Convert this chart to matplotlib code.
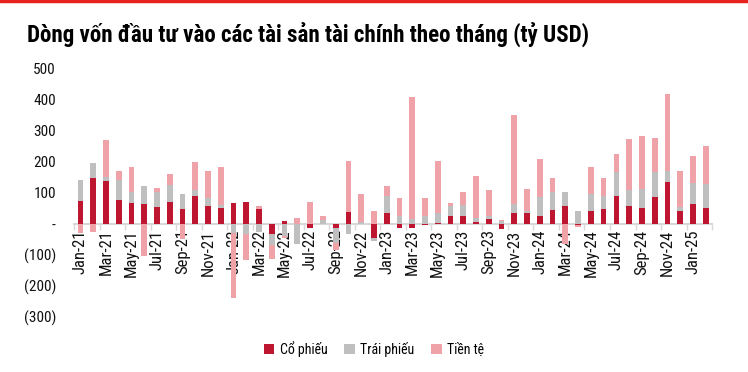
import matplotlib
matplotlib.use("Agg")
import matplotlib.pyplot as plt
import numpy as np
from matplotlib.lines import Line2D
from matplotlib.patches import Patch
from matplotlib.ticker import FuncFormatter, FixedLocator

plt.rcParams["font.family"] = ["Roboto Condensed", "DejaVu Sans"]

months = [
    "Jan-21", "Feb-21", "Mar-21", "Apr-21", "May-21", "Jun-21",
    "Jul-21", "Aug-21", "Sep-21", "Oct-21", "Nov-21", "Dec-21",
    "Jan-22", "Feb-22", "Mar-22", "Apr-22", "May-22", "Jun-22",
    "Jul-22", "Aug-22", "Sep-22", "Oct-22", "Nov-22", "Dec-22",
    "Jan-23", "Feb-23", "Mar-23", "Apr-23", "May-23", "Jun-23",
    "Jul-23", "Aug-23", "Sep-23", "Oct-23", "Nov-23", "Dec-23",
    "Jan-24", "Feb-24", "Mar-24", "Apr-24", "May-24", "Jun-24",
    "Jul-24", "Aug-24", "Sep-24", "Oct-24", "Nov-24", "Dec-24",
    "Jan-25", "Feb-25",
]

# ty USD
co_phieu = [
    75, 148, 137, 76, 68, 63, 54, 71, 49, 89, 57, 50,
    68, 72, 47, -34, 10, 0, -12, 0, -12, 39, 0, -45,
    34, -12, -12, -5, 3, 27, 27, 5, 17, -18, 36, 36,
    27, 46, 59, -5, 42, 49, 90, 57, 52, 86, 136, 42,
    63, 52,
]
trai_phieu = [
    65, 48, 15, 66, 36, 60, 49, 54, 48, 21, 26, 11,
    -28, -33, -25, -34, -38, -66, 0, 13, -50, -34, 5, -10,
    55, 25, 15, 25, 32, 31, 34, 15, 9, 8, 28, 7,
    60, 56, 44, 41, 55, 41, 77, 53, 62, 81, 36, 11,
    70, 76,
]
tien_te = [
    -30, -26, 119, 30, 80, -103, 12, 36, -50, 90, 88, 121,
    -212, -82, 12, -45, -8, 18, 70, 14, -22, 164, 92, 42,
    34, 57, 395, 60, 169, 9, 43, 134, 82, 5, 287, 71,
    121, 45, -65, -5, 86, 57, 59, 164, 171, 110, 246, 117,
    85, 123,
]

series = [
    ("Cổ phiếu", co_phieu, "#BE1530"),
    ("Trái phiếu", trai_phieu, "#BFBFBF"),
    ("Tiền tệ", tien_te, "#EFA3A8"),
]

fig = plt.figure(figsize=(7.48, 3.72), dpi=100)
ax = fig.add_axes([0.099, 0.148, 0.853, 0.667])

# positives stack up from zero, negatives stack down from zero
x = np.arange(len(months))
pos_base = np.zeros(len(months))
neg_base = np.zeros(len(months))
for name, vals, color in series:
    v = np.array(vals, dtype=float)
    bottom = np.where(v >= 0, pos_base, neg_base)
    ax.bar(x, v, bottom=bottom, width=0.45, color=color, linewidth=0, zorder=2)
    pos_base += np.clip(v, 0, None)
    neg_base += np.clip(v, None, 0)

ax.set_xlim(-0.5, len(months) - 0.5)
ax.set_ylim(-300, 500)
ax.set_yticks(np.arange(-300, 501, 100))


def fmt(v, _):
    if v == 0:
        return "-"
    if v < 0:
        return f"({abs(v):.0f})"
    return f"{v:.0f}"


ax.yaxis.set_major_formatter(FuncFormatter(fmt))
ax.tick_params(axis="y", length=0, pad=13, labelsize=11, labelcolor="#111111")

for s in ["top", "right", "left"]:
    ax.spines[s].set_visible(False)
ax.spines["bottom"].set_position(("data", 0))
ax.spines["bottom"].set_color("#D9D9D9")
ax.spines["bottom"].set_linewidth(1.5)
ax.spines["bottom"].set_zorder(1)

ax.set_xticks(x[::2])
ax.set_xticklabels(months[::2], rotation=90)
ax.xaxis.set_minor_locator(FixedLocator(np.arange(-0.5, len(months), 2)))
ax.tick_params(axis="x", which="major", length=0, pad=4, labelsize=12, labelcolor="#111111")
ax.tick_params(axis="x", which="minor", length=4, width=1, color="#D9D9D9", direction="out")

fig.add_artist(Line2D([0, 1], [0.997, 0.997], color="#E8231E", linewidth=2.5, transform=fig.transFigure))

fig.text(0.036, 0.888, "Dòng vốn đầu tư vào các tài sản tài chính theo tháng (tỷ USD)",
         fontsize=16.6, fontweight="bold", va="baseline", ha="left", color="#000000")

handles = [Patch(facecolor=c, edgecolor="none", label=n) for n, _, c in series]
fig.legend(handles=handles, loc="center", bbox_to_anchor=(0.50, 0.062), ncol=3, frameon=False,
           fontsize=10, handlelength=0.75, handleheight=0.75, handletextpad=0.4, columnspacing=1.2)

fig.savefig("out.png", dpi=100)
